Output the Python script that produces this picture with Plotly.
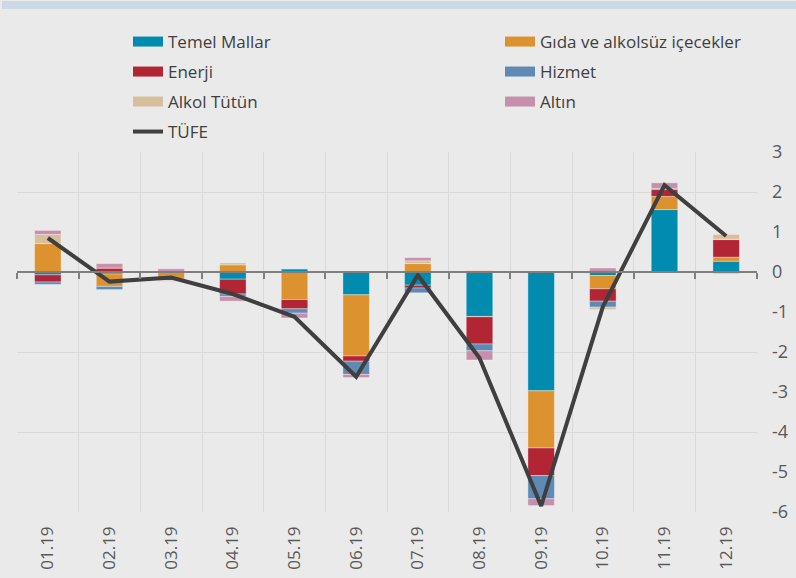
import plotly.graph_objects as go

months = ['01.19', '02.19', '03.19', '04.19', '05.19', '06.19',
          '07.19', '08.19', '09.19', '10.19', '11.19', '12.19']

temel  = [-0.07, -0.05, 0.00, -0.18, 0.08, -0.57, -0.33, -1.11, -2.97, -0.09, 1.56, 0.27]
gida   = [0.71, -0.31, -0.17, 0.18, -0.69, -1.53, 0.21, -0.01, -1.43, -0.33, 0.33, 0.10]
enerji = [-0.18, 0.10, -0.04, -0.37, -0.23, -0.13, -0.07, -0.68, -0.69, -0.31, 0.17, 0.44]
hizmet = [-0.06, -0.08, -0.01, -0.06, -0.11, -0.33, -0.12, -0.17, -0.58, -0.15, 0.03, 0.01]
alkol  = [0.23, 0.00, -0.02, 0.05, 0.00, 0.00, 0.07, 0.04, 0.00, -0.06, -0.03, 0.12]
altin  = [0.10, 0.11, 0.08, -0.12, -0.12, -0.08, 0.08, -0.23, -0.17, 0.10, 0.14, -0.04]
tufe   = [0.85, -0.24, -0.14, -0.55, -1.12, -2.62, -0.08, -2.15, -5.85, -0.87, 2.17, 0.90]

ytick_vals = [3, 2, 1, 0, -1, -2, -3, -4, -5, -6]
ytick_text = ['3', '2', '1', '0', '-1', '-2', '-3', '-4', '-5', '-6']

series = [
    ('Temel Mallar', temel, '#008BAF'),
    ('Gıda ve alkolsüz içecekler', gida, '#DD9230'),
    ('Enerji', enerji, '#B12535'),
    ('Hizmet', hizmet, '#5E8AB4'),
    ('Alkol Tütün', alkol, '#D6BF9C'),
    ('Altın', altin, '#C690AC'),
]

FONT = 'Open Sans'
BG = '#EAEAEA'
GRID = '#D9D9D9'
TXT = '#595959'

W, H = 796, 578
ml, mr, mt, mb = 17, 39, 152, 66
pw = W - ml - mr
ph = H - mt - mb

col_x = [128, 500]
row_y = [42, 72, 102, 132]

fig = go.Figure()
for name, vals, col in series:
    fig.add_trace(go.Bar(x=months, y=vals, name=name, marker_color=col,
                         marker_line=dict(color='rgba(255,255,255,0.35)', width=1),
                         showlegend=False))
fig.add_trace(go.Scatter(x=months, y=tufe, name='TÜFE', mode='lines',
                         line=dict(color='#3F3F3F', width=4), showlegend=False))

legends = {}
entries = [(n, c, 10) for n, v, c in series] + [('TÜFE', '#3F3F3F', 4)]
for i, (name, col, lw) in enumerate(entries):
    key = 'legend' if i == 0 else f'legend{i + 1}'
    fig.add_trace(go.Scatter(x=[months[0]], y=[None], name=name, mode='lines',
                             line=dict(color=col, width=lw), legend=key,
                             hoverinfo='skip'))
    cx = col_x[i % 2]
    ry = row_y[i // 2]
    legends[key] = dict(orientation='h', x=(cx - ml) / pw, xanchor='left',
                        y=(H - mb - ry) / ph, yanchor='middle',
                        font=dict(family=FONT, size=17, color='#404040'),
                        bgcolor='rgba(0,0,0,0)')

fig.add_trace(go.Scatter(x=months, y=tufe, xaxis='x2', yaxis='y', mode='lines',
                         line=dict(width=0), opacity=0, showlegend=False, hoverinfo='skip'))
fig.add_trace(go.Scatter(x=months, y=tufe, xaxis='x', yaxis='y2', mode='lines',
                         line=dict(width=0), opacity=0, showlegend=False, hoverinfo='skip'))

xr = [-0.5, len(months) - 0.5]

fig.update_layout(
    width=W, height=H, autosize=False,
    margin=dict(l=ml, r=mr, t=mt, b=mb, autoexpand=False),
    paper_bgcolor=BG, plot_bgcolor=BG,
    barmode='relative', bargap=0.57,
    font=dict(family=FONT, color=TXT),
    xaxis=dict(type='category', categoryorder='array', categoryarray=months, range=xr,
               showgrid=True, gridcolor=GRID, gridwidth=1, tickson='boundaries',
               ticks='', tickangle=-90, tickfont=dict(family=FONT, size=17, color=TXT),
               showline=False, zeroline=False, ticklabelstandoff=10, automargin=False),
    xaxis2=dict(type='category', categoryorder='array', categoryarray=months,
                overlaying='x', anchor='free', position=6 / 9, matches='x',
                showgrid=False, tickson='boundaries', ticks='outside', ticklen=6,
                tickcolor='#7F7F7F', tickwidth=1.5, showticklabels=False,
                showline=True, linecolor='#7F7F7F', linewidth=1.5, zeroline=False,
                automargin=False),
    yaxis=dict(range=[-6, 3], tickmode='array', tickvals=ytick_vals, ticktext=ytick_text,
               side='right', showgrid=False, zeroline=False, showline=False, ticks='',
               tickfont=dict(family=FONT, size=18, color=TXT), ticklabelstandoff=14,
               automargin=False),
    yaxis2=dict(range=[-6, 3], dtick=2, tick0=0, overlaying='y', side='left',
                showgrid=True, gridcolor=GRID, gridwidth=1, showticklabels=False,
                zeroline=False, showline=False, ticks='', automargin=False),
    shapes=[dict(type='rect', xref='paper', yref='paper', layer='below',
                 x0=(2 - ml) / pw, x1=(W - ml) / pw,
                 y0=(H - mb - 9) / ph, y1=(H - mb - 1) / ph,
                 fillcolor='#CCD8E4', line=dict(width=0))],
    **legends,
)

fig.write_html('out.html', config={'displayModeBar': False},
               post_script="document.body.style.margin='0';document.body.style.overflow='hidden';")
